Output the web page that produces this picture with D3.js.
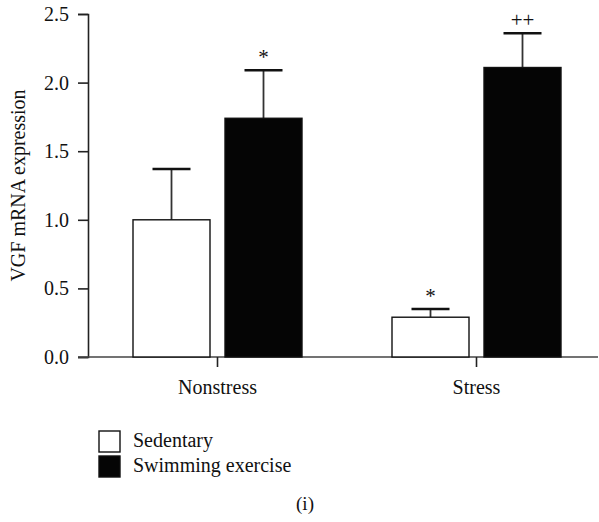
<!DOCTYPE html>
<html>
<head>
<meta charset="utf-8">
<script src="https://cdn.jsdelivr.net/npm/d3@7"></script>
<style>
  body { margin: 0; background: #fff; }
  svg text { font-family: "Liberation Serif", "DejaVu Serif", serif; fill: #111; }
</style>
</head>
<body>
<svg class="chart"></svg>
<script>
// data
var categories = ["Nonstress", "Stress"];
var series = ["Sedentary", "Swimming exercise"];
var means = [[1.00, 1.74], [0.29, 2.11]];
var errTops = [[1.37, 2.09], [0.35, 2.36]];
var marks = [["", "*"], ["*", "++"]];
var yTicks = [0, 0.5, 1.0, 1.5, 2.0, 2.5];
var fills = ["#fff", "#050505"];

(function show() {
    'use strict';
    var width = 599, height = 522,
        serif = "Liberation Serif, DejaVu Serif, serif";

    var svg = d3.select(".chart")
        .attr("width", width)
        .attr("height", height);

    var y = d3.scaleLinear().domain([0, 2.5]).range([357, 14]);
    var x0 = d3.scaleBand().domain(categories).range([88, 606]);
    var x1 = d3.scaleBand().domain(series).range([-84.5, 84.5]).paddingInner(15 / 92);

    // y axis
    var yAxis = svg.append("g")
        .attr("transform", "translate(88,0)")
        .call(d3.axisLeft(y).tickValues(yTicks).tickFormat(d3.format(".1f")).tickSize(10).tickPadding(9));
    yAxis.select(".domain").attr("stroke", "#222").attr("stroke-width", 1.6);
    yAxis.selectAll(".tick line").attr("stroke", "#222").attr("stroke-width", 1.6);
    yAxis.selectAll(".tick text").attr("font-size", 20).attr("font-family", serif).attr("fill", "#111");

    // x axis
    var xAxis = svg.append("g")
        .attr("transform", "translate(0,357)")
        .call(d3.axisBottom(x0).tickSize(10).tickPadding(13).tickSizeOuter(0));
    xAxis.select(".domain").attr("d", "M78,0H598").attr("stroke", "#444").attr("stroke-width", 1.6);
    xAxis.selectAll(".tick line").attr("stroke", "#222").attr("stroke-width", 1.6);
    xAxis.selectAll(".tick text").attr("font-size", 20).attr("font-family", serif).attr("fill", "#111");

    // y label
    svg.append("text")
        .attr("transform", "translate(25," + ((y(0) + y(2.5)) / 2) + ") rotate(-90)")
        .attr("text-anchor", "middle")
        .attr("font-family", serif)
        .attr("font-size", 20)
        .text("VGF mRNA expression");

    // bars
    var cells = [];
    categories.forEach(function(c, i) {
        series.forEach(function(s, j) {
            cells.push({cat: c, ser: s, j: j, v: means[i][j], e: errTops[i][j], m: marks[i][j]});
        });
    });
    function cx(d) { return x0(d.cat) + x0.bandwidth() / 2 + x1(d.ser); }

    var g = svg.append("g");
    // error bars under bars
    g.selectAll("line.err").data(cells).enter()
        .append("line")
        .attr("x1", function(d) { return cx(d) + x1.bandwidth() / 2; })
        .attr("x2", function(d) { return cx(d) + x1.bandwidth() / 2; })
        .attr("y1", function(d) { return y(d.v); })
        .attr("y2", function(d) { return y(d.e); })
        .attr("stroke", "#333").attr("stroke-width", 1.8);
    g.selectAll("line.cap").data(cells).enter()
        .append("line")
        .attr("x1", function(d) { return cx(d) + x1.bandwidth() / 2 - 19; })
        .attr("x2", function(d) { return cx(d) + x1.bandwidth() / 2 + 19; })
        .attr("y1", function(d) { return y(d.e); })
        .attr("y2", function(d) { return y(d.e); })
        .attr("stroke", "#111").attr("stroke-width", 2.4);

    g.selectAll("rect").data(cells).enter()
        .append("rect")
        .attr("x", cx)
        .attr("y", function(d) { return y(d.v); })
        .attr("width", x1.bandwidth())
        .attr("height", function(d) { return y(0) - y(d.v); })
        .attr("fill", function(d) { return fills[d.j]; })
        .attr("stroke", "#111")
        .attr("stroke-width", 1.4);

    g.selectAll("text.mark").data(cells).enter()
        .append("text")
        .attr("x", function(d) { return cx(d) + x1.bandwidth() / 2; })
        .attr("y", function(d) { return y(d.e) - 6; })
        .attr("text-anchor", "middle")
        .attr("font-family", serif)
        .attr("font-size", 21)
        .attr("fill", "#222")
        .text(function(d) { return d.m; });

    // legend
    var leg = svg.append("g").selectAll("g").data(series).enter()
        .append("g")
        .attr("transform", function(d, i) { return "translate(99," + (431 + i * 25) + ")"; });
    leg.append("rect")
        .attr("width", 21).attr("height", 21)
        .attr("fill", function(d, i) { return fills[i]; })
        .attr("stroke", "#111").attr("stroke-width", 1.4);
    leg.append("text")
        .attr("x", 34).attr("y", 16)
        .attr("font-family", serif)
        .attr("font-size", 20)
        .text(function(d) { return d; });

    svg.append("text")
        .attr("x", 305).attr("y", 510)
        .attr("text-anchor", "middle")
        .attr("font-family", serif)
        .attr("font-size", 19)
        .text("(i)");
})();
</script>
</body>
</html>
